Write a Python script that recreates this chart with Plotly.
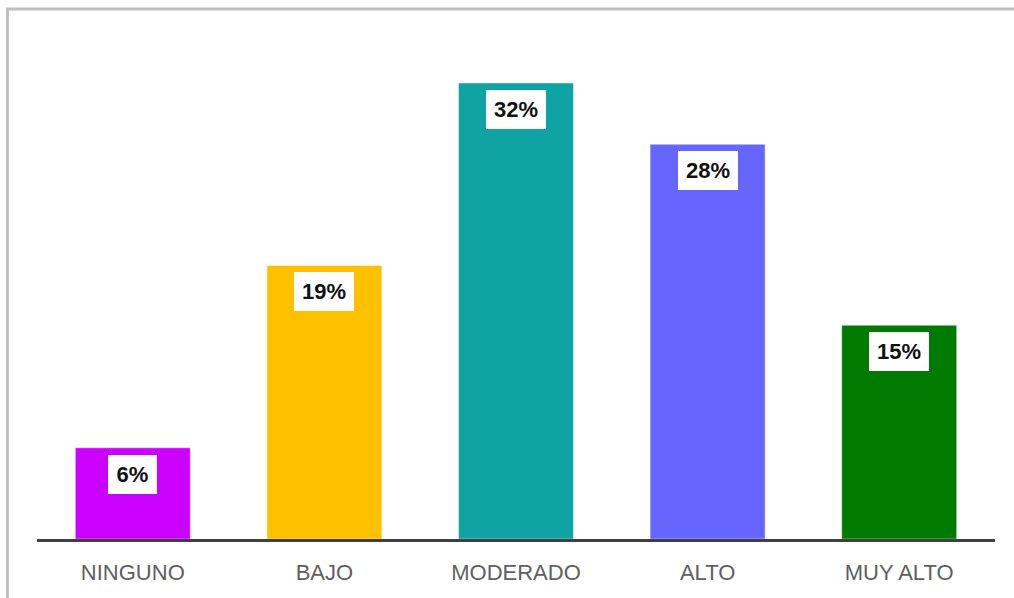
import plotly.graph_objects as go

categories = ["NINGUNO", "BAJO", "MODERADO", "ALTO", "MUY ALTO"]
values = [6.4, 19.2, 32.0, 27.7, 15.0]
colors = ["#CC00FF", "#FFC000", "#0FA3A3", "#6666FF", "#007A00"]

W, H = 1014, 598
L, R, T, B = 37, 19, 30, 59
plot_w = W - L - R
plot_h = H - T - B
px_per_unit = 14.25
y_max = plot_h / px_per_unit

fig = go.Figure()
fig.add_trace(go.Bar(
    x=categories,
    y=values,
    marker=dict(color=colors, line=dict(color="rgba(255,255,255,0.45)", width=1)),
    width=0.6,
    hoverinfo="x+y",
))

for c, v in zip(categories, values):
    txt = f"{round(v):d}%"
    fig.add_annotation(
        x=c, y=v, xref="x", yref="y",
        text=f"<b>{txt}</b>",
        showarrow=False,
        yanchor="top",
        yshift=-7,
        bgcolor="white",
        borderpad=0,
        borderwidth=0,
        width=49 if len(txt) == 2 else 60,
        height=39,
        font=dict(family="Liberation Sans, Arial, sans-serif", size=22, color="#111111"),
    )

# outer chart border (left and top visible)
fig.add_shape(
    type="rect", xref="paper", yref="paper",
    x0=(7.5 - L) / plot_w, x1=(W + 20 - L) / plot_w,
    y0=-(B + 20) / plot_h, y1=(H - B - 9) / plot_h,
    line=dict(color="#C0C0C0", width=3),
    fillcolor="rgba(0,0,0,0)",
    layer="below",
)

fig.update_layout(
    width=W, height=H,
    margin=dict(l=L, r=R, t=T, b=B),
    paper_bgcolor="white",
    plot_bgcolor="white",
    showlegend=False,
    bargap=0.4,
    xaxis=dict(
        showline=True, linecolor="#404040", linewidth=3,
        showgrid=False, ticks="", zeroline=False,
        ticklabelstandoff=12,
        tickfont=dict(family="Liberation Sans, Arial, sans-serif", size=22, color="#606060"),
    ),
    yaxis=dict(
        range=[0, y_max], visible=False, showgrid=False, zeroline=False,
    ),
)

fig.write_html(
    "out.html",
    config={"displayModeBar": False},
    post_script="document.body.style.margin='0';document.body.style.overflow='hidden';",
)
